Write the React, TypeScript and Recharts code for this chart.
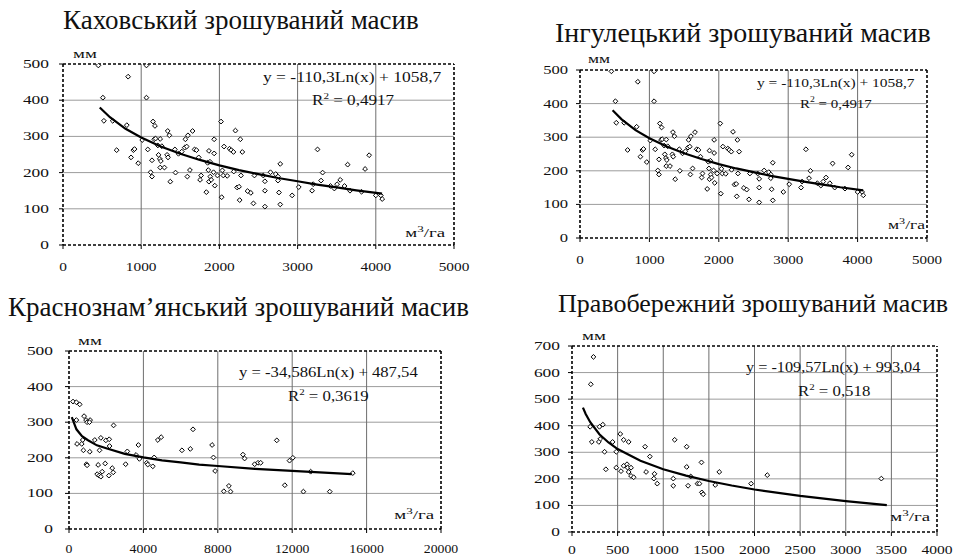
// @ts-nocheck
import React from 'react';
import { ScatterChart, Scatter, XAxis, YAxis, ReferenceLine } from 'recharts';

const FONT = '"Liberation Serif", "Times New Roman", Times, serif';

// Каховський / Інгулецький (same cloud of points)
const kakhovkaPoints = [
  [452, 496], [1067, 496], [833, 465], [510, 407], [1067, 407], [523, 343], [636, 343], [816, 331],
  [686, 262], [870, 242], [900, 262], [915, 265], [962, 226], [1013, 290], [1084, 264], [1151, 341],
  [1176, 329], [1167, 292], [1184, 294], [1243, 293], [1213, 275], [1264, 273], [1222, 249], [1238, 238],
  [1251, 232], [1138, 234], [1121, 201], [1138, 189], [1243, 214], [1297, 214], [1331, 249], [1343, 242],
  [1339, 315], [1360, 303], [1372, 175], [1439, 200], [1431, 264], [1477, 252], [1519, 258], [1556, 269],
  [1565, 292], [1598, 303], [1657, 315], [1582, 272], [1682, 264], [1707, 262], [1590, 189], [1623, 207],
  [1736, 242], [1766, 192], [1753, 180], [1833, 146], [1849, 227], [1858, 207], [1879, 230], [1866, 260],
  [1933, 253], [1933, 292], [1866, 175], [1883, 189], [1895, 180], [1925, 201], [1941, 164], [1975, 192],
  [2021, 341], [2029, 132], [2059, 272], [2050, 192], [2100, 191], [2038, 206], [2130, 266], [2151, 262],
  [2180, 257], [2205, 316], [2226, 159], [2251, 161], [2259, 124], [2276, 192], [2293, 257], [2268, 292],
  [2184, 203], [2360, 149], [2402, 144], [2435, 115], [2448, 192], [2561, 192], [2582, 176], [2582, 150],
  [2582, 106], [2653, 201], [2720, 196], [2749, 189], [2749, 178], [2778, 224], [2762, 145], [2778, 112],
  [2930, 137], [3015, 160], [3185, 150], [3200, 168], [3255, 264], [3300, 178], [3320, 200], [3420, 163],
  [3470, 156], [3505, 168], [3545, 180], [3600, 163], [3640, 222], [3670, 150], [3818, 147], [3863, 210],
  [3915, 248], [4000, 137], [4065, 137], [4082, 127],
];
const kakhovkaTrend = [
  [470, 380], [600, 353], [800, 321], [1000, 297], [1250, 272], [1500, 252], [1750, 235], [2000, 220],
  [2250, 207], [2500, 196], [2750, 185], [3000, 176], [3250, 167], [3500, 159], [3750, 151], [4080, 142],
];

// Краснознам'янський
const krasnoPoints = [
  [216, 358], [396, 356], [577, 350], [396, 306], [811, 317], [919, 306], [973, 300], [1135, 306],
  [1099, 300], [432, 239], [685, 239], [739, 250], [775, 221], [1117, 217], [1387, 250], [937, 182],
  [973, 179], [1640, 221], [1712, 256], [1568, 180], [1514, 154], [1622, 150], [1712, 147], [1784, 161],
  [1946, 184], [1982, 249], [2162, 252], [2180, 233], [2144, 150], [2324, 171], [2378, 159], [2396, 291],
  [3045, 182], [3135, 218], [3604, 208], [3730, 236], [3784, 197], [4180, 186], [4234, 181], [4505, 176],
  [4577, 201], [4775, 250], [4955, 258], [6072, 221], [6523, 225], [6667, 280], [7694, 236], [7766, 201],
  [7856, 163], [8324, 106], [8595, 121], [8685, 105], [9351, 209], [9441, 198], [9982, 182], [10162, 186],
  [10306, 186], [11171, 249], [11603, 123], [11856, 192], [12036, 200], [12991, 161], [12602, 105],
  [14018, 105], [15257, 157],
];
const krasnoTrend = [
  [150, 314], [400, 280], [700, 261], [1000, 250], [1500, 235], [2000, 227], [3000, 211], [4000, 201],
  [5000, 193], [6000, 187], [7000, 181], [8000, 177], [10000, 169], [12000, 163], [15200, 154],
];

// Правобережний
const pravoPoints = [
  [235, 659], [206, 556], [199, 396], [217, 339], [301, 396], [338, 404], [309, 350], [294, 339],
  [357, 302], [371, 236], [445, 339], [485, 302], [485, 242], [529, 369], [566, 347], [621, 339],
  [537, 229], [566, 249], [603, 255], [610, 242], [621, 226], [647, 211], [676, 206], [647, 242],
  [801, 321], [853, 284], [812, 226], [904, 219], [897, 201], [934, 182], [1110, 201], [1110, 174],
  [1125, 347], [1257, 321], [1257, 245], [1272, 174], [1301, 209], [1375, 182], [1397, 182], [1419, 262],
  [1423, 149], [1438, 142], [1570, 177], [1614, 226], [1963, 182], [2140, 214], [3390, 201],
];
const pravoTrend = [
  [120, 468], [150, 444], [200, 413], [300, 368], [400, 337], [500, 312], [750, 268], [1000, 236],
  [1250, 212], [1500, 192], [1750, 175], [2000, 160], [2500, 136], [3000, 116], [3450, 101],
];

const ticks5000 = [0, 1000, 2000, 3000, 4000, 5000];
const ticks20000 = [0, 4000, 8000, 12000, 16000, 20000];
const ticks4000 = [0, 500, 1000, 1500, 2000, 2500, 3000, 3500, 4000];
const ticks500 = [0, 100, 200, 300, 400, 500];
const ticks700 = [0, 100, 200, 300, 400, 500, 600, 700];

const toXY = (arr) => arr.map(([x, y]) => ({ x, y }));

function T({ x, y, size = 12, sx = 1, anchor = 'start', children }) {
  return (
    <text
      transform={`translate(${x} ${y}) scale(${sx} 1)`}
      fontSize={size}
      fontFamily={FONT}
      textAnchor={anchor}
      fill="#111"
    >
      {children}
    </text>
  );
}

const diamond = (props) => {
  const { cx, cy } = props;
  const r = 2.4;
  return (
    <path
      d={`M${cx},${cy - r}L${cx + r},${cy}L${cx},${cy + r}L${cx - r},${cy}Z`}
      fill="#fff"
      stroke="#000"
      strokeWidth={1}
    />
  );
};

const border = { stroke: '#000', strokeWidth: 1.6, strokeDasharray: '3 2' };

function Panel({ box, xMax, xTicks, yMax, yTicks, points, trend, xsx = 1.28, ysx = 1.45, xdy = 19, ygap = 10 }) {
  const [px, py, pw, ph] = box;
  return (
    <div style={{ position: 'absolute', left: px - 60, top: py - 30 }}>
      <ScatterChart
        width={pw + 80}
        height={ph + 70}
        margin={{ top: 30, right: 20, left: 0, bottom: 0 }}
      >
        <XAxis
          type="number"
          dataKey="x"
          domain={[0, xMax]}
          ticks={xTicks}
          interval={0}
          allowDataOverflow
          height={40}
          tickSize={4}
          tickMargin={2}
          axisLine={border}
          tickLine={{ stroke: '#000' }}
          tick={(p) => (
            <T x={p.x} y={p.y + xdy} size={12} sx={xsx} anchor="middle">
              {p.payload.value}
            </T>
          )}
        />
        <YAxis
          type="number"
          dataKey="y"
          domain={[0, yMax]}
          ticks={yTicks}
          interval={0}
          allowDataOverflow
          width={60}
          tickSize={4}
          tickMargin={ygap}
          axisLine={border}
          tickLine={{ stroke: '#000' }}
          tick={(p) => (
            <T x={p.x} y={p.y + 4} size={12} sx={ysx} anchor="end">
              {p.payload.value}
            </T>
          )}
        />
        {yTicks.slice(1, -1).map((v) => (
          <ReferenceLine key={'h' + v} y={v} stroke="#9c9c9c" strokeWidth={1} />
        ))}
        {xTicks.slice(1, -1).map((v) => (
          <ReferenceLine key={'v' + v} x={v} stroke="#6e6e6e" strokeWidth={1} />
        ))}
        <ReferenceLine y={yMax} {...border} />
        <ReferenceLine x={xMax} {...border} />
        <Scatter data={toXY(points)} shape={diamond} isAnimationActive={false} />
        <Scatter
          data={toXY(trend)}
          line={{ stroke: '#000', strokeWidth: 2.2 }}
          shape={() => <g />}
          isAnimationActive={false}
        />
      </ScatterChart>
    </div>
  );
}

function Unit({ x, y, sx = 1.45 }) {
  return (
    <T x={x} y={y} size={13} sx={sx} anchor="end">
      м<tspan dy={-5} fontSize={9}>3</tspan>
      <tspan dy={5}>/га</tspan>
    </T>
  );
}

function R2({ x, y, value, size = 14, sx = 1.22 }) {
  return (
    <T x={x} y={y} size={size} sx={sx}>
      R<tspan dy={-6} fontSize={size * 0.65}>2</tspan>
      <tspan dy={6}>{' = ' + value}</tspan>
    </T>
  );
}

export default function App() {
  return (
    <div
      style={{
        position: 'absolute',
        left: 0,
        top: 0,
        width: 962,
        height: 559,
        overflow: 'hidden',
        background: '#fff',
      }}
    >
      <Panel box={[63, 64, 391, 181]} xMax={5000} xTicks={ticks5000} yMax={500} yTicks={ticks500}
        points={kakhovkaPoints} trend={kakhovkaTrend} xdy={20} ygap={10} />
      <Panel box={[580, 70, 347, 168]} xMax={5000} xTicks={ticks5000} yMax={500} yTicks={ticks500}
        points={kakhovkaPoints} trend={kakhovkaTrend} xdy={20} ygap={8} ysx={1.38} xsx={1.25} />
      <Panel box={[69, 351, 372, 178]} xMax={20000} xTicks={ticks20000} yMax={500} yTicks={ticks500}
        points={krasnoPoints} trend={krasnoTrend} xdy={18} ygap={12} xsx={1.15} />
      <Panel box={[572, 346, 365, 186]} xMax={4000} xTicks={ticks4000} yMax={700} yTicks={ticks700}
        points={pravoPoints} trend={pravoTrend} xdy={16} ygap={8} xsx={1.3} />

      <svg width={962} height={559} style={{ position: 'absolute', left: 0, top: 0, pointerEvents: 'none' }}>
        <T x={63} y={29} size={27}>Каховський зрошуваний масив</T>
        <T x={555} y={42} size={28}>Інгулецький зрошуваний масив</T>
        <T x={8} y={316} size={27}>Краснознам’янський зрошуваний масив</T>
        <T x={558} y={312} size={26}>Правобережний зрошуваний масив</T>

        <T x={73} y={58} size={13} sx={1.45}>мм</T>
        <T x={588} y={63} size={12} sx={1.45}>мм</T>
        <T x={78} y={345} size={13} sx={1.45}>мм</T>
        <T x={582} y={340} size={13} sx={1.45}>мм</T>

        <T x={263} y={82} size={14} sx={1.25}>y = -110,3Ln(x) + 1058,7</T>
        <R2 x={312} y={105} value="0,4917" />
        <T x={757} y={87} size={13} sx={1.19}>y = -110,3Ln(x) + 1058,7</T>
        <R2 x={800} y={108} value="0,4917" size={13} sx={1.15} />
        <T x={239} y={377} size={14} sx={1.19}>y = -34,586Ln(x) + 487,54</T>
        <R2 x={288} y={401} value="0,3619" sx={1.2} />
        <T x={746} y={372} size={14} sx={1.16}>y = -109,57Ln(x) + 993,04</T>
        <R2 x={798} y={396} value="0,518" sx={1.2} />

        <Unit x={445} y={237} />
        <Unit x={925} y={229} sx={1.35} />
        <Unit x={434} y={519} />
        <Unit x={930} y={521} />
      </svg>
    </div>
  );
}
